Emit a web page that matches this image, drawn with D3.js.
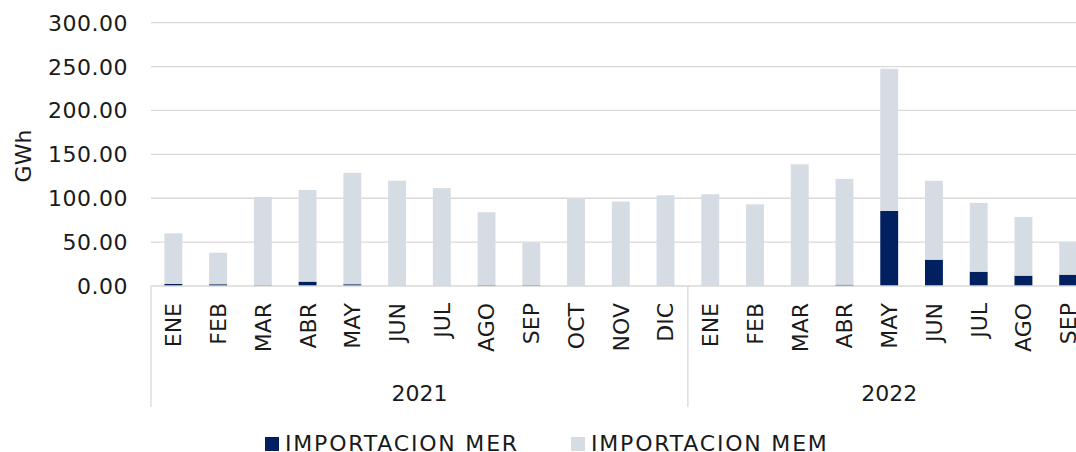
<!DOCTYPE html>
<html><head><meta charset="utf-8">
<script src="https://cdn.jsdelivr.net/npm/d3@7"></script>
<style>body{margin:0;background:#fff}svg{display:block}text{font-family:"DejaVu Sans",sans-serif;fill:#1a1a1a}</style>
</head><body><svg id="c" width="1076" height="452"></svg>
<script>
const months = ["ENE","FEB","MAR","ABR","MAY","JUN","JUL","AGO","SEP","OCT","NOV","DIC","ENE","FEB","MAR","ABR","MAY","JUN","JUL","AGO","SEP"];
const years = ["2021","2022"];
const yearCounts = [12, 9];
const importMER = [2.5,2,0.8,5,2,0.3,0.3,1,1,0,0,0.3, 0,0,0,1.5,85.5,30,16.3,11.8,12.9];
const importMEM = [57.5,36,100.7,104.5,127,119.7,111.2,83,48.5,100,96.3,103.1, 104.5,93,138.6,120.5,162,89.8,78.4,66.9,37.3];
const yTicks = [0,50,100,150,200,250,300];
const seriesNames = ["IMPORTACION MER","IMPORTACION MEM"];
const colors = ["#002060","#D6DCE4"];

const svg = d3.select("#c");
const plotLeft = 151, step = 44.74, plotTop = 22.7, plotBottom = 286;
const idx = months.map((m,i)=>i);
const x = d3.scaleBand().domain(idx).range([plotLeft, plotLeft + step*months.length]).paddingInner(0.6).paddingOuter(0.3);
const y = d3.scaleLinear().domain([0,300]).range([plotBottom, plotTop]);

// gridlines
svg.append("g").selectAll("line").data(yTicks.filter(t=>t>0)).join("line")
  .attr("x1", plotLeft).attr("x2", 1076).attr("y1", d=>y(d)).attr("y2", d=>y(d))
  .attr("stroke", "#D9D9D9").attr("stroke-width", 1.3);

// y tick labels
svg.append("g").selectAll("text").data(yTicks).join("text")
  .attr("x", 128).attr("y", d=>y(d)).attr("dy","0.36em").attr("text-anchor","end")
  .style("font-size","22px").style("letter-spacing","0.5px").text(d=>d3.format(".2f")(d));

// y title
svg.append("text").attr("transform","translate(23,156) rotate(-90)").attr("text-anchor","middle")
  .attr("dy","0.36em").style("font-size","22px").text("GWh");

// stacked bars
const data = idx.map(i=>({i, MER: importMER[i], MEM: importMEM[i]}));
const stack = d3.stack().keys(["MER","MEM"])(data);
svg.append("g").selectAll("g").data(stack).join("g").attr("fill",(d,k)=>colors[k])
  .selectAll("rect").data(d=>d).join("rect")
  .attr("x", d=>x(d.data.i)).attr("width", x.bandwidth())
  .attr("y", d=>y(d[1])).attr("height", d=>y(d[0])-y(d[1]));

// x axis line
svg.append("line").attr("x1",plotLeft).attr("x2",1076).attr("y1",plotBottom).attr("y2",plotBottom)
  .attr("stroke","#D9D9D9").attr("stroke-width",1.3);

// month labels
svg.append("g").selectAll("text").data(idx).join("text")
  .attr("transform", i=>`translate(${x(i)+x.bandwidth()/2},303) rotate(-90)`)
  .attr("text-anchor","end").attr("dy","0.36em").style("font-size","22px").text(i=>months[i]);

// year groups
let start = 0;
const bounds = [];
yearCounts.forEach((n,k)=>{
  const x0 = plotLeft + step*start, x1 = plotLeft + step*(start+n);
  bounds.push(x0);
  svg.append("text").attr("x",(x0+x1)/2).attr("y",401).attr("text-anchor","middle")
    .style("font-size","22px").text(years[k]);
  start += n;
});
bounds.push(plotLeft + step*start);
svg.append("g").selectAll("line").data(bounds).join("line")
  .attr("x1",d=>d).attr("x2",d=>d).attr("y1",plotBottom).attr("y2",407)
  .attr("stroke","#D9D9D9").attr("stroke-width",1.3);

// legend
const legX = [265, 571];
seriesNames.forEach((s,k)=>{
  svg.append("rect").attr("x",legX[k]).attr("y",437).attr("width",14).attr("height",14).attr("fill",colors[k]);
  svg.append("text").attr("x",legX[k]+20).attr("y",451).style("font-size","22px")
    .style("letter-spacing","1.8px").text(s);
});
</script></body></html>
